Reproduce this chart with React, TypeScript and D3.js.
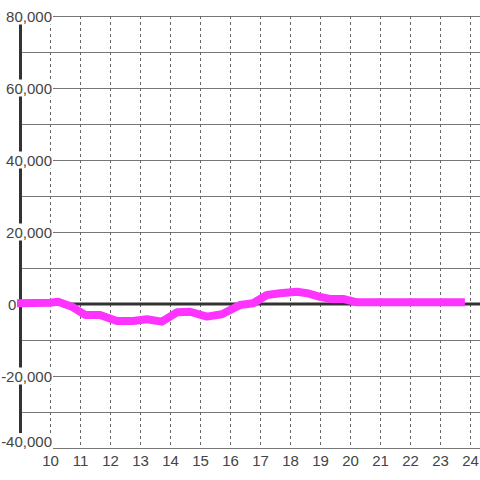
import React, { useEffect, useRef } from "react";
import * as d3 from "d3";

const hours = [8.9, 10.0, 10.27, 10.73, 11.17, 11.67, 12.23, 12.77, 13.23, 13.73, 14.23, 14.67, 15.23, 15.73, 16.33, 16.77, 17.23, 17.67, 18.23, 18.57, 19.0, 19.33, 19.77, 20.23, 23.83];
const values = [200, 360, 640, -750, -3050, -3050, -4700, -4700, -4250, -4900, -2300, -2150, -3500, -2850, -300, 200, 2500, 3000, 3400, 3000, 2000, 1400, 1400, 470, 470];
const xTicks = [10, 11, 12, 13, 14, 15, 16, 17, 18, 19, 20, 21, 22, 23, 24];
const yGrid = [-40000, -30000, -20000, -10000, 0, 10000, 20000, 30000, 40000, 50000, 60000, 70000, 80000];
const yLabels = [-40000, -20000, 0, 20000, 40000, 60000, 80000];

export default function App() {
  const ref = useRef<SVGSVGElement>(null);
  useEffect(() => {
    const svg = d3.select(ref.current);
    svg.selectAll("*").remove();
    const x = d3.scaleLinear().domain([9, 24]).range([20, 470]);
    const y = d3.scaleLinear().domain([-40000, 80000]).range([448, 16]);
    svg.append("rect").attr("width", 480).attr("height", 480).attr("fill", "#fff");
    // horizontal grid
    svg.append("g").selectAll("line").data(yGrid.filter((v) => v !== 0)).join("line")
      .attr("x1", 20).attr("x2", 480)
      .attr("y1", (d) => y(d) + 0.5).attr("y2", (d) => y(d) + 0.5)
      .attr("stroke", "#777").attr("stroke-width", 1);
    // vertical dotted
    svg.append("g").selectAll("line").data(xTicks).join("line")
      .attr("x1", (d) => x(d) + 0.5).attr("x2", (d) => x(d) + 0.5)
      .attr("y1", 16).attr("y2", 448)
      .attr("stroke", "#666").attr("stroke-width", 1).attr("stroke-dasharray", "3,3");
    // zero line
    svg.append("line").attr("x1", 20).attr("x2", 480).attr("y1", y(0)).attr("y2", y(0))
      .attr("stroke", "#333").attr("stroke-width", 3);
    // left axis
    svg.append("line").attr("x1", 20.5).attr("x2", 20.5).attr("y1", 16).attr("y2", 448)
      .attr("stroke", "#333").attr("stroke-width", 3);
    // data line
    const data = hours.map((h, i) => [h, values[i]] as [number, number]);
    const line = d3.line<[number, number]>().x((d) => x(d[0])).y((d) => y(d[1]));
    svg.append("path").attr("d", line(data)).attr("fill", "none")
      .attr("stroke", "#ff33ff").attr("stroke-width", 8)
      .attr("stroke-linejoin", "round").attr("stroke-linecap", "butt");
    // y labels
    const fmt = d3.format(",");
    const lg = svg.append("g");
    yLabels.forEach((v) => {
      const g = lg.append("g");
      const base = v === -40000 ? y(v) - 1 : y(v) + 5.5;
      const isZero = v === 0;
      const t = g.append("text").attr("x", isZero ? 8 : 52).attr("y", base)
        .attr("text-anchor", isZero ? "start" : "end")
        .attr("font-family", "'Liberation Sans', Arial, sans-serif").attr("font-size", 15)
        .attr("fill", "#444").text(v < 0 ? "-" + fmt(-v) : fmt(v));
      if (!isZero) {
        const bb = (t.node() as SVGTextElement).getBBox();
        g.insert("rect", "text").attr("x", bb.x - 1).attr("y", bb.y).attr("width", 53 - bb.x + 1)
          .attr("height", bb.height).attr("fill", "#fff");
      }
    });
    // x labels
    svg.append("g").selectAll("text").data(xTicks).join("text")
      .attr("x", (d) => x(d) + 0.5).attr("y", 466).attr("text-anchor", "middle")
      .attr("font-family", "'Liberation Sans', Arial, sans-serif").attr("font-size", 15)
      .attr("fill", "#444").text((d) => String(d));
  }, []);
  return (
    <svg ref={ref} width={480} height={480} style={{ position: "absolute", left: 0, top: 0 }} />
  );
}
